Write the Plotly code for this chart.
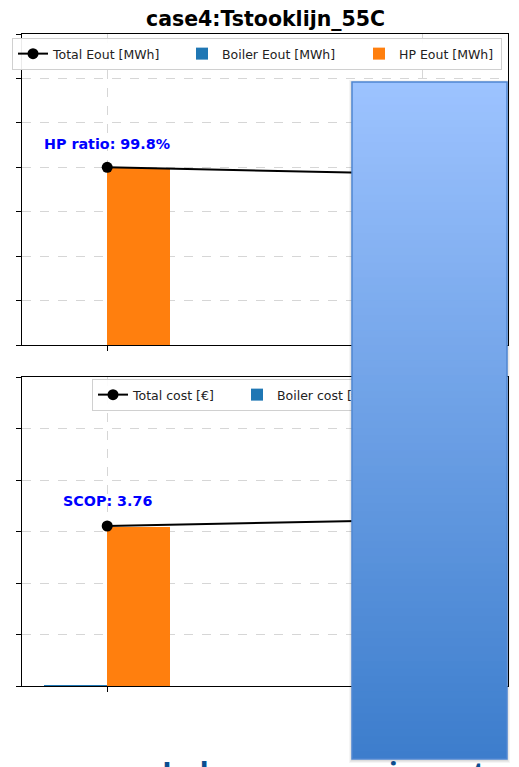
import plotly.graph_objects as go

# ---------------- data ----------------
categories = [0, 1]                       # case positions (labels hidden in crop)
total_eout = [400.0, 385.0]               # MWh
boiler_eout = [0.8, 4.0]                  # MWh
hp_eout = [399.2, 381.0]                  # MWh
total_cost = [3107.0, 3230.0]             # €
boiler_cost = [10.0, 60.0]                # €
hp_cost = [3097.0, 3170.0]                # €
hp_ratio_label = "HP ratio: 99.8%"
scop_label = "SCOP: 3.76"
title_text = "case4:Tstooklijn_55C"
footer_text = "Iedereen energieneutraal"

W, H = 519, 767
def px(x):
    return x / W
def py(y):
    return 1 - y / H

FONT = "DejaVu Sans"
LEG_FONT = 12.5
fig = go.Figure()

# ---- top panel ----
fig.add_trace(go.Scatter(x=categories, y=total_eout, mode="lines+markers",
                         name="Total Eout [MWh]", line=dict(color="black", width=2),
                         marker=dict(color="black", size=11), xaxis="x", yaxis="y",
                         legend="legend", legendwidth=124))
fig.add_trace(go.Bar(x=categories, y=boiler_eout, name="Boiler Eout [MWh]",
                     marker=dict(color="#1f77b4", line=dict(width=0)),
                     offset=-0.2, width=0.2, xaxis="x", yaxis="y", legend="legend",
                     legendwidth=132))
fig.add_trace(go.Bar(x=categories, y=hp_eout, name="HP Eout [MWh]",
                     marker=dict(color="#ff7f0e", line=dict(width=0)),
                     offset=0.0, width=0.2, xaxis="x", yaxis="y", legend="legend",
                     legendwidth=97))

# ---- bottom panel ----
fig.add_trace(go.Scatter(x=categories, y=total_cost, mode="lines+markers",
                         name="Total cost [€]", line=dict(color="black", width=2),
                         marker=dict(color="black", size=11), xaxis="x2", yaxis="y2",
                         legend="legend2", legendwidth=99))
fig.add_trace(go.Bar(x=categories, y=boiler_cost, name="Boiler cost [€]",
                     marker=dict(color="#1f77b4", line=dict(width=0)),
                     offset=-0.2, width=0.2, xaxis="x2", yaxis="y2", legend="legend2",
                     legendwidth=99))
fig.add_trace(go.Bar(x=categories, y=hp_cost, name="HP cost [€]",
                     marker=dict(color="#ff7f0e", line=dict(width=0)),
                     offset=0.0, width=0.2, xaxis="x2", yaxis="y2", legend="legend2"))

axis_common = dict(showline=True, linecolor="black", linewidth=1, mirror=True,
                   ticks="outside", ticklen=5, tickcolor="black", tickwidth=1,
                   showticklabels=False, showgrid=True, gridcolor="#d6d6d6",
                   griddash="dash", gridwidth=1, zeroline=False)

legend_common = dict(orientation="h", xanchor="left", yanchor="top",
                     bgcolor="rgba(255,255,255,0.92)", bordercolor="#d0d0d0", borderwidth=1,
                     font=dict(family=FONT, size=LEG_FONT, color="#222"),
                     traceorder="normal")

fig.update_layout(
    width=W, height=H, margin=dict(l=0, r=0, t=0, b=0),
    paper_bgcolor="white", plot_bgcolor="white",
    barmode="overlay", bargap=0,
    font=dict(family=FONT, size=11, color="#222"),
    xaxis=dict(domain=[px(22), px(508)], range=[-0.27, 1.27], tickvals=categories,
               anchor="y", **axis_common),
    yaxis=dict(domain=[py(345), py(34)], range=[0, 700], dtick=100, anchor="x",
               **axis_common),
    xaxis2=dict(domain=[px(22), px(508)], range=[-0.27, 1.27], tickvals=categories,
                anchor="y2", **axis_common),
    yaxis2=dict(domain=[py(686), py(377)], range=[0, 6000], dtick=1000, anchor="x2",
                **axis_common),
    legend=dict(x=px(12), y=py(38), **legend_common),
    legend2=dict(x=px(92), y=py(379), **legend_common),
    showlegend=True,
)

annotations = [
    dict(text="<b>" + title_text + "</b>", x=px(265), y=py(19), xref="paper", yref="paper",
         xanchor="center", yanchor="middle", showarrow=False,
         font=dict(family=FONT, size=20.5, color="black")),
    dict(text="<b>" + hp_ratio_label + "</b>", x=categories[0], y=total_eout[0] * 1.1,
         xref="x", yref="y", xanchor="center", yanchor="bottom", yshift=-4, showarrow=False,
         font=dict(family=FONT, size=14.3, color="blue")),
    dict(text="<b>" + scop_label + "</b>", x=categories[0], y=total_cost[0] * 1.1,
         xref="x2", yref="y2", xanchor="center", yanchor="bottom", yshift=-1, showarrow=False,
         font=dict(family=FONT, size=14.3, color="blue")),
    dict(text="<b>" + footer_text + "</b>", x=px(160), y=py(750), xref="paper", yref="paper",
         xanchor="left", yanchor="top", showarrow=False,
         font=dict(family="Open Sans", size=30, color="#0b4f91")),
]
fig.update_layout(annotations=annotations)

# ---- overlay panel (page element covering the chart) ----
shapes = []
x0, x1, y0, y1 = 352, 507, 82, 759
# soft shadow
for i, a in enumerate([0.05, 0.05, 0.04]):
    d = i + 1
    shapes.append(dict(type="rect", xref="paper", yref="paper", layer="above",
                       x0=px(x0 - d), x1=px(x1 + d), y0=py(y1 + d + 1), y1=py(y0 - d + 1),
                       fillcolor=f"rgba(0,0,0,{a})", line=dict(width=0)))
top_c = (157, 195, 255)
bot_c = (60, 125, 204)
n = 90
step = (y1 - y0) / n
for i in range(n):
    t = (i + 0.5) / n
    c = tuple(round(top_c[k] + (bot_c[k] - top_c[k]) * t) for k in range(3))
    yb = min(y0 + (i + 1) * step + 1.5, y1)
    shapes.append(dict(type="rect", xref="paper", yref="paper", layer="above",
                       x0=px(x0), x1=px(x1), y0=py(yb),
                       y1=py(y0 + i * step),
                       fillcolor="rgb(%d,%d,%d)" % c, line=dict(width=0)))
shapes.append(dict(type="rect", xref="paper", yref="paper", layer="above",
                   x0=px(x0), x1=px(x1), y0=py(y1), y1=py(y0),
                   fillcolor="rgba(0,0,0,0)", line=dict(color="#4f86d2", width=1.5)))
fig.update_layout(shapes=shapes)

# the overlay panel sits on top of the whole chart (legend included), as in the page
post = """
document.body.style.margin = '0px';
document.body.style.overflow = 'hidden';
function moveOverlay() {
  try {
    var gd = document.querySelector('.plotly-graph-div');
    var fl = gd && gd._fullLayout;
    if (!fl || !fl._shapeUpperLayer || !fl._toppaper) return;
    var layer = fl._shapeUpperLayer.node().parentNode;
    var top = fl._toppaper.node();
    if (layer.parentNode !== top || top.lastChild !== layer) { top.appendChild(layer); }
  } catch (e) {}
}
moveOverlay();
setTimeout(moveOverlay, 100);
setTimeout(moveOverlay, 500);
setTimeout(moveOverlay, 1200);
"""
fig.write_html("out.html", config={"staticPlot": True, "displayModeBar": False},
               post_script=post)
